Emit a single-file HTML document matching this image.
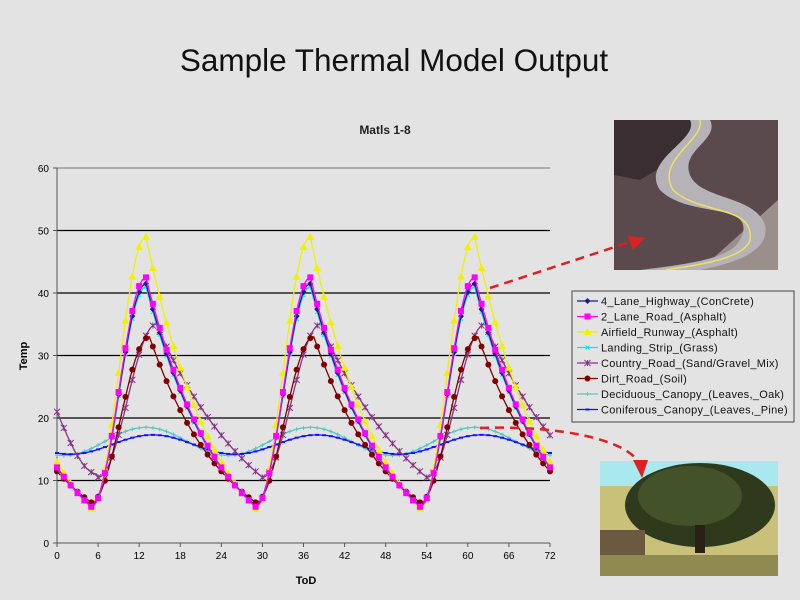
<!DOCTYPE html>
<html><head><meta charset="utf-8"><style>
body{margin:0;background:#e3e3e3;}
svg{display:block;font-family:"Liberation Sans",Arial,sans-serif;}
</style></head><body>
<svg id="s" width="800" height="600" viewBox="0 0 800 600">
<rect width="800" height="600" fill="#e3e3e3"/>
<text x="394" y="71" font-size="31.5" text-anchor="middle" fill="#111">Sample Thermal Model Output</text>
<text x="385" y="134" font-size="12" font-weight="bold" text-anchor="middle" fill="#222">Matls 1-8</text>
<g id="grid"></g>
<g id="series"></g>
<text x="306" y="584" font-size="11" font-weight="bold" text-anchor="middle">ToD</text>
<text transform="translate(27,356) rotate(-90)" font-size="11" font-weight="bold" text-anchor="middle">Temp</text>
<rect x="572" y="291" width="222" height="131" fill="#e3e3e3" stroke="#444"/>
<g id="leg" font-size="11" fill="#111"></g>
<rect x="614" y="120" width="164" height="150" fill="#5a4a4e"/>
<path d="M614 120 L700 120 L690 150 L640 180 L614 175Z" fill="#3a2e33"/>
<path d="M778 200 L778 270 L700 270 Z" fill="#9a8f8a"/>
<path d="M690 120 C700 140 640 160 660 190 C690 220 760 200 740 240 C730 260 680 265 640 270 L700 270 C740 262 770 250 765 225 C755 195 700 200 690 175 C680 150 720 140 710 120Z" fill="#b5b3b8"/>
<path d="M700 120 C705 140 655 160 673 190 C700 215 755 205 750 240 C745 258 700 265 665 270" fill="none" stroke="#f0e060" stroke-width="1.5"/>
<rect x="600" y="461" width="178" height="115" fill="#c9c07a"/>
<rect x="600" y="461" width="178" height="25" fill="#a8e8ee"/>
<ellipse cx="700" cy="505" rx="75" ry="42" fill="#2f3a1c"/>
<ellipse cx="690" cy="496" rx="52" ry="30" fill="#44522a"/>
<rect x="695" y="525" width="10" height="28" fill="#2a2014"/>
<rect x="600" y="530" width="45" height="28" fill="#6b5a40"/>
<rect x="600" y="555" width="178" height="21" fill="#8f8a50"/>
<path d="M490 288 L630 242" stroke="#e02020" stroke-width="2.5" stroke-dasharray="9 6" fill="none"/>
<path d="M628 236 L645 238 L633 250Z" fill="#e02020"/>
<path d="M480 428 C560 425 630 440 640 465" stroke="#e02020" stroke-width="2.5" stroke-dasharray="9 6" fill="none"/>
<path d="M633 460 L642 478 L648 460Z" fill="#e02020"/>
</svg>
<script>
const NS="http://www.w3.org/2000/svg";
const X0=57,X1=550,Y0=543,YS=6.25;
const px=t=>X0+t*(X1-X0)/72, py=v=>Y0-v*YS;
function el(tag,attrs,parent,txt){const e=document.createElementNS(NS,tag);for(const k in attrs)e.setAttribute(k,attrs[k]);if(txt!==undefined)e.textContent=txt;parent.appendChild(e);return e;}
const g=document.getElementById('grid');
for(let v=10;v<=50;v+=10) el('line',{x1:X0,x2:X1,y1:py(v),y2:py(v),stroke:'#000','stroke-width':1.2},g);
el('line',{x1:X0,x2:X1,y1:py(60),y2:py(60),stroke:'#777'},g);
el('line',{x1:X0,x2:X0,y1:py(60),y2:Y0,stroke:'#555'},g);
el('line',{x1:X0,x2:X1,y1:Y0,y2:Y0,stroke:'#555'},g);
for(let v=0;v<=60;v+=10){el('line',{x1:X0-4,x2:X0,y1:py(v),y2:py(v),stroke:'#555'},g);el('text',{x:X0-8,y:py(v)+4,'font-size':10,'text-anchor':'end'},g,v);}
for(let t=0;t<=72;t+=6){el('line',{x1:px(t),x2:px(t),y1:Y0,y2:Y0+4,stroke:'#555'},g);el('text',{x:px(t),y:Y0+16,'font-size':10,'text-anchor':'middle'},g,t);}
function diurnal(mn,mx,tmin,tmax,a){return t=>{let p=((t-tmin)%24+24)%24;let hd=tmax-tmin;
 if(p<=hd){return mn+(mx-mn)*(1-Math.cos(Math.PI*p/hd))/2;}
 let s=(p-hd)/(24-hd);return mn+(mx-mn)*(Math.exp(-a*s)-Math.exp(-a))/(1-Math.exp(-a));};}
function sinus(mn,mx,tmax){return t=>mn+(mx-mn)*(1+Math.cos(2*Math.PI*(t-tmax)/24))/2;}
const country0=diurnal(10.5,35,6,14.5,1.0);
const S=[
 {n:'4_Lane_Highway_(ConCrete)',c:'#1a1a8a',m:'d',f:diurnal(6,41.5,5,13,1.5)},
 {n:'2_Lane_Road_(Asphalt)',c:'#ff00ff',m:'s',f:diurnal(5.8,42.5,5,13,1.5)},
 {n:'Airfield_Runway_(Asphalt)',c:'#f0f000',m:'t',f:diurnal(5.5,49,5,13,1.5)},
 {n:'Landing_Strip_(Grass)',c:'#00e8f0',m:'x',f:diurnal(6,41,5,13,1.5)},
 {n:'Country_Road_(Sand/Gravel_Mix)',c:'#883388',m:'a',f:t=>t<6?21+(11-21)*Math.sin(Math.PI*t/12):country0(t)},
 {n:'Dirt_Road_(Soil)',c:'#800000',m:'o',f:diurnal(6.5,33,5,13.5,1.4)},
 {n:'Deciduous_Canopy_(Leaves,_Oak)',c:'#55c8c0',m:'p',f:sinus(14,18.5,13)},
 {n:'Coniferous_Canopy_(Leaves,_Pine)',c:'#1010ff',m:'-',f:sinus(14.2,17.3,14)}];
function marker(m,x,y,c,p){
 if(m=='d')el('path',{d:`M${x} ${y-3}L${x+3} ${y}L${x} ${y+3}L${x-3} ${y}Z`,fill:c},p);
 else if(m=='s')el('rect',{x:x-3,y:y-3,width:6,height:6,fill:c},p);
 else if(m=='t')el('path',{d:`M${x} ${y-4}L${x+4} ${y+3}L${x-4} ${y+3}Z`,fill:c},p);
 else if(m=='x')el('path',{d:`M${x-2} ${y-2}L${x+2} ${y+2}M${x+2} ${y-2}L${x-2} ${y+2}`,stroke:c},p);
 else if(m=='a')el('path',{d:`M${x-3} ${y-3}L${x+3} ${y+3}M${x+3} ${y-3}L${x-3} ${y+3}M${x} ${y-3}L${x} ${y+3}`,stroke:c},p);
 else if(m=='o')el('circle',{cx:x,cy:y,r:3,fill:c},p);
 else if(m=='p')el('path',{d:`M${x-2} ${y}L${x+2} ${y}M${x} ${y-2}L${x} ${y+2}`,stroke:c},p);
 else el('path',{d:`M${x-2} ${y}L${x+2} ${y}`,stroke:c,'stroke-width':2},p);}
const sg=document.getElementById('series');
const order=[6,7,4,5,2,3,0,1];
for(const i of order){const s=S[i];let d='';for(let t=0;t<=72;t+=0.25){d+=(t?'L':'M')+px(t).toFixed(1)+' '+py(s.f(t)).toFixed(1);}
 el('path',{d,fill:'none',stroke:s.c,'stroke-width':1.3},sg);
 for(let t=0;t<=72;t++)marker(s.m,px(t),py(s.f(t)),s.c,sg);}
const lg=document.getElementById('leg');
S.forEach((s,i)=>{const y=301+i*15.5;el('line',{x1:577,x2:598,y1:y,y2:y,stroke:s.c,'stroke-width':1.3},lg);marker(s.m,587.5,y,s.c,lg);
 el('text',{x:601,y:y+4,'letter-spacing':'0.3'},lg,s.n);});
</script>
</body></html>
